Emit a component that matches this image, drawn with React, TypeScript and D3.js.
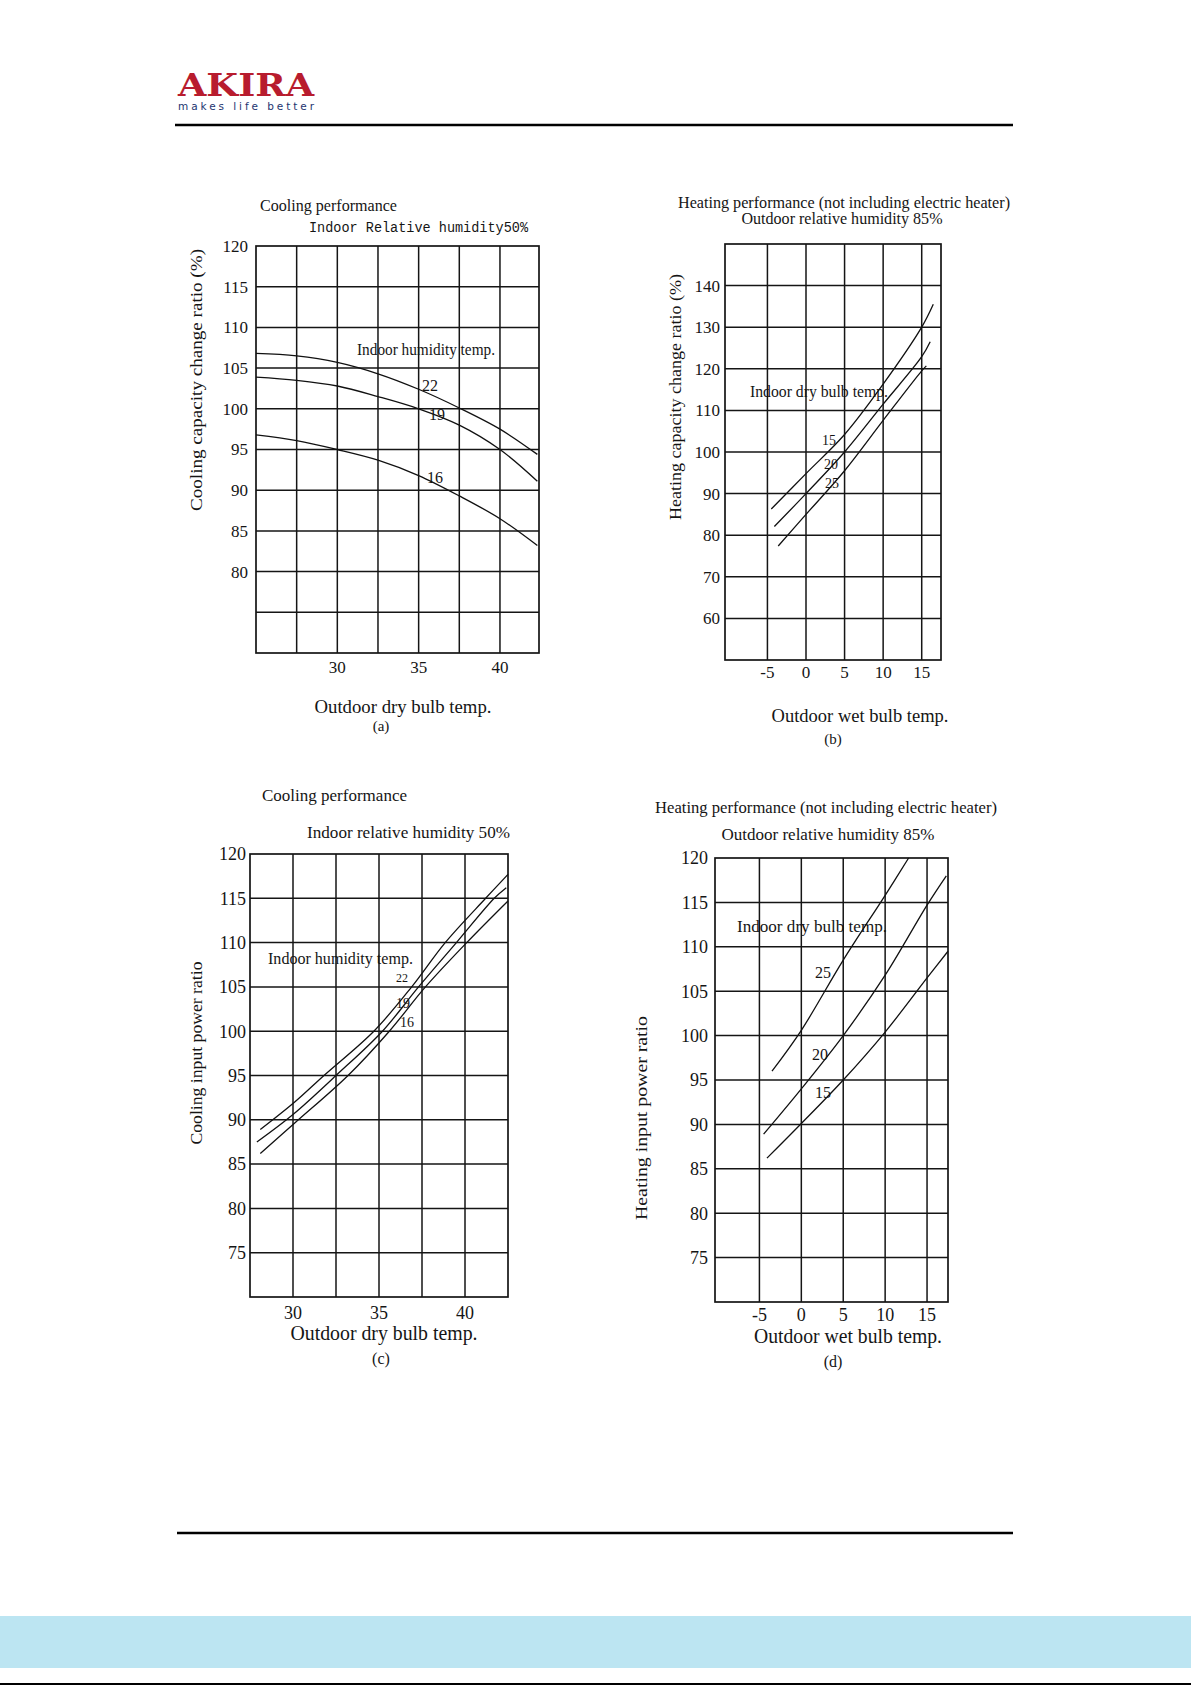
import React from 'react';
import * as d3 from 'd3';

// ================= DATA =================
// (a) Cooling capacity change ratio (%) vs outdoor dry bulb temp
const coolCapX = [25, 27.5, 30, 32.5, 35, 37.5, 40, 42.3];
const coolCap22 = [106.8, 106.5, 105.7, 104.3, 102.4, 100.1, 97.5, 94.4];
const coolCap19 = [103.9, 103.5, 102.8, 101.5, 100.0, 98.0, 95.0, 91.1];
const coolCap16 = [96.8, 96.1, 95.0, 93.7, 91.8, 89.3, 86.5, 83.2];
const coolCapGridX = [27.5, 30, 32.5, 35, 37.5, 40];
const coolCapTicksX = [30, 35, 40];
const coolCapGridY = [75, 80, 85, 90, 95, 100, 105, 110, 115];
const coolCapTicksY = [80, 85, 90, 95, 100, 105, 110, 115, 120];

// (b) Heating capacity change ratio (%) vs outdoor wet bulb temp
const heatCap15X = [-4.5, 0, 5, 10, 15, 16.5];
const heatCap15 = [86.3, 94.8, 104.2, 116.3, 130, 135.5];
const heatCap20X = [-4.1, 0, 5, 10, 15, 16.1];
const heatCap20 = [82.1, 90, 100, 111.5, 122.9, 126.5];
const heatCap25X = [-3.6, 0, 5, 10, 15, 15.6];
const heatCap25 = [77.4, 85.0, 95.5, 107.6, 119.5, 120.7];
const heatCapGridX = [-5, 0, 5, 10, 15];
const heatCapTicksX = [-5, 0, 5, 10, 15];
const heatCapGridY = [60, 70, 80, 90, 100, 110, 120, 130, 140];
const heatCapTicksY = [60, 70, 80, 90, 100, 110, 120, 130, 140];

// (c) Cooling input power ratio vs outdoor dry bulb temp
const coolPow22X = [28.1, 30.1, 31.8, 34.7, 36.9, 38.85, 41.2, 42.5];
const coolPow22 = [88.9, 92.0, 95, 100, 105, 110, 115, 117.7];
const coolPow19X = [27.9, 30, 32.5, 35.2, 37.3, 39.5, 41.7, 42.4];
const coolPow19 = [87.5, 90.6, 95, 100, 105, 110, 115, 116.2];
const coolPow16X = [28.1, 30.2, 33.2, 35.6, 37.7, 40.1, 42.5];
const coolPow16 = [86.2, 89.8, 95, 100, 105, 110, 114.7];
const coolPowGridX = [30, 32.5, 35, 37.5, 40];
const coolPowTicksX = [30, 35, 40];
const coolPowGridY = [75, 80, 85, 90, 95, 100, 105, 110, 115];
const coolPowTicksY = [75, 80, 85, 90, 95, 100, 105, 110, 115, 120];

// (d) Heating input power ratio vs outdoor wet bulb temp
const heatPow25X = [-3.5, 0, 5, 10, 12.8];
const heatPow25 = [96.0, 100.6, 108.5, 115.8, 120];
const heatPow20X = [-4.5, 0, 5, 10, 15, 17.3];
const heatPow20 = [88.9, 94.0, 100, 106.8, 114.7, 118.0];
const heatPow15X = [-4.1, 0, 5, 10, 15, 17.5];
const heatPow15 = [86.2, 90.1, 95, 100.4, 106.5, 109.5];
const heatPowGridX = [-5, 0, 5, 10, 15];
const heatPowTicksX = [-5, 0, 5, 10, 15];
const heatPowGridY = [75, 80, 85, 90, 95, 100, 105, 110, 115];
const heatPowTicksY = [75, 80, 85, 90, 95, 100, 105, 110, 115, 120];

// ================= STYLE =================
const SERIF = '"Liberation Serif", "Times New Roman", serif';
const MONO = '"Liberation Mono", "DejaVu Sans Mono", monospace';
const SANS = '"DejaVu Sans", Verdana, sans-serif';
const INK = '#151515';

type Txt = { t: string; x: number; y: number; size: number; w?: number; anchor?: string; font?: string };

type PanelCfg = {
  box: [number, number, number, number]; // left, right, top, bottom
  xDom: [number, number];
  yDom: [number, number];
  gridX: number[];
  gridY: number[];
  ticksX: number[];
  ticksY: number[];
  tickYRight: number;
  tickXBase: number;
  tickSize: number;
  series: { x: number[]; y: number[] }[];
  texts: Txt[];
  yTitle: { t: string; x: number; y: number; w: number; size: number };
};

const panels: PanelCfg[] = [
  {
    box: [256, 539, 246, 653],
    xDom: [25, 42.4],
    yDom: [70, 120],
    gridX: coolCapGridX,
    gridY: coolCapGridY,
    ticksX: coolCapTicksX,
    ticksY: coolCapTicksY,
    tickYRight: 248,
    tickXBase: 673,
    tickSize: 17,
    series: [
      { x: coolCapX, y: coolCap22 },
      { x: coolCapX, y: coolCap19 },
      { x: coolCapX, y: coolCap16 },
    ],
    texts: [
      { t: 'Cooling performance', x: 260, y: 211, size: 17, w: 137 },
      { t: 'Indoor Relative humidity50%', x: 309, y: 232, size: 14, w: 219, font: MONO },
      { t: 'Outdoor dry bulb temp.', x: 403, y: 713, size: 19, w: 177, anchor: 'middle' },
      { t: '(a)', x: 381, y: 731, size: 15, anchor: 'middle' },
      { t: 'Indoor humidity temp.', x: 357, y: 355, size: 17, w: 138 },
      { t: '22', x: 430, y: 391, size: 16, anchor: 'middle' },
      { t: '19', x: 437, y: 420, size: 16, anchor: 'middle' },
      { t: '16', x: 435, y: 483, size: 16, anchor: 'middle' },
    ],
    yTitle: { t: 'Cooling capacity change ratio (%)', x: 202, y: 380, w: 262, size: 16.5 },
  },
  {
    box: [725, 941, 244, 660],
    xDom: [-10.5, 17.5],
    yDom: [50, 150],
    gridX: heatCapGridX,
    gridY: heatCapGridY,
    ticksX: heatCapTicksX,
    ticksY: heatCapTicksY,
    tickYRight: 720,
    tickXBase: 678,
    tickSize: 17,
    series: [
      { x: heatCap15X, y: heatCap15 },
      { x: heatCap20X, y: heatCap20 },
      { x: heatCap25X, y: heatCap25 },
    ],
    texts: [
      { t: 'Heating performance (not including electric heater)', x: 844, y: 208, size: 16, w: 332, anchor: 'middle' },
      { t: 'Outdoor relative humidity 85%', x: 842, y: 224, size: 16, w: 201, anchor: 'middle' },
      { t: 'Outdoor wet bulb temp.', x: 860, y: 722, size: 19, w: 177, anchor: 'middle' },
      { t: '(b)', x: 833, y: 744, size: 15, anchor: 'middle' },
      { t: 'Indoor dry bulb temp.', x: 750, y: 397, size: 16.5, w: 138 },
      { t: '15', x: 829, y: 445, size: 14, anchor: 'middle' },
      { t: '20', x: 831, y: 469, size: 14, anchor: 'middle' },
      { t: '25', x: 832, y: 488, size: 14, anchor: 'middle' },
    ],
    yTitle: { t: 'Heating capacity change ratio (%)', x: 681, y: 397, w: 246, size: 16.5 },
  },
  {
    box: [250, 508, 854, 1297],
    xDom: [27.5, 42.5],
    yDom: [70, 120],
    gridX: coolPowGridX,
    gridY: coolPowGridY,
    ticksX: coolPowTicksX,
    ticksY: coolPowTicksY,
    tickYRight: 246,
    tickXBase: 1319,
    tickSize: 18,
    series: [
      { x: coolPow22X, y: coolPow22 },
      { x: coolPow19X, y: coolPow19 },
      { x: coolPow16X, y: coolPow16 },
    ],
    texts: [
      { t: 'Cooling performance', x: 262, y: 801, size: 17.5, w: 145 },
      { t: 'Indoor relative humidity 50%', x: 307, y: 838, size: 17.5, w: 203 },
      { t: 'Outdoor dry bulb temp.', x: 384, y: 1340, size: 21, w: 187, anchor: 'middle' },
      { t: '(c)', x: 381, y: 1364, size: 16, anchor: 'middle' },
      { t: 'Indoor humidity temp.', x: 268, y: 964, size: 17.5, w: 145 },
      { t: '22', x: 402, y: 982, size: 12, anchor: 'middle' },
      { t: '19', x: 403, y: 1008, size: 14, anchor: 'middle' },
      { t: '16', x: 407, y: 1027, size: 14, anchor: 'middle' },
    ],
    yTitle: { t: 'Cooling input power ratio', x: 202, y: 1053, w: 183, size: 16.5 },
  },
  {
    box: [715, 948, 858, 1302],
    xDom: [-10.3, 17.5],
    yDom: [70, 120],
    gridX: heatPowGridX,
    gridY: heatPowGridY,
    ticksX: heatPowTicksX,
    ticksY: heatPowTicksY,
    tickYRight: 708,
    tickXBase: 1321,
    tickSize: 18,
    series: [
      { x: heatPow25X, y: heatPow25 },
      { x: heatPow20X, y: heatPow20 },
      { x: heatPow15X, y: heatPow15 },
    ],
    texts: [
      { t: 'Heating performance (not including electric heater)', x: 826, y: 813, size: 17, w: 342, anchor: 'middle' },
      { t: 'Outdoor relative humidity 85%', x: 828, y: 840, size: 17, w: 213, anchor: 'middle' },
      { t: 'Outdoor wet bulb temp.', x: 848, y: 1343, size: 21, w: 188, anchor: 'middle' },
      { t: '(d)', x: 833, y: 1367, size: 16, anchor: 'middle' },
      { t: 'Indoor dry bulb temp.', x: 737, y: 932, size: 17, w: 150 },
      { t: '25', x: 823, y: 978, size: 16, anchor: 'middle' },
      { t: '20', x: 820, y: 1060, size: 16, anchor: 'middle' },
      { t: '15', x: 823, y: 1098, size: 16, anchor: 'middle' },
    ],
    yTitle: { t: 'Heating input power ratio', x: 647, y: 1118, w: 204, size: 16.5 },
  },
];

function Panel({ cfg }: { cfg: PanelCfg }) {
  const [l, r, t, b] = cfg.box;
  const xs = d3.scaleLinear().domain(cfg.xDom).range([l, r]);
  const ys = d3.scaleLinear().domain(cfg.yDom).range([b, t]);
  const line = d3
    .line<[number, number]>()
    .x((d) => xs(d[0]))
    .y((d) => ys(d[1]))
    .curve(d3.curveCatmullRom.alpha(0.5));
  return (
    <g>
      {cfg.gridY.map((v) => (
        <line key={'gy' + v} x1={l} x2={r} y1={ys(v)} y2={ys(v)} stroke={INK} strokeWidth={1.5} />
      ))}
      {cfg.gridX.map((v) => (
        <line key={'gx' + v} x1={xs(v)} x2={xs(v)} y1={t} y2={b} stroke={INK} strokeWidth={1.5} />
      ))}
      <rect x={l} y={t} width={r - l} height={b - t} fill="none" stroke={INK} strokeWidth={1.7} />
      {cfg.series.map((s, i) => (
        <path
          key={'s' + i}
          d={line(s.x.map((xv, j) => [xv, s.y[j]] as [number, number])) || ''}
          fill="none"
          stroke="#111"
          strokeWidth={1.3}
        />
      ))}
      {cfg.ticksY.map((v) => (
        <text
          key={'ty' + v}
          x={cfg.tickYRight}
          y={ys(v)}
          dy="0.35em"
          textAnchor="end"
          fontFamily={SERIF}
          fontSize={cfg.tickSize}
          fill={INK}
        >
          {v}
        </text>
      ))}
      {cfg.ticksX.map((v) => (
        <text
          key={'tx' + v}
          x={xs(v)}
          y={cfg.tickXBase}
          textAnchor="middle"
          fontFamily={SERIF}
          fontSize={cfg.tickSize}
          fill={INK}
        >
          {v}
        </text>
      ))}
      {cfg.texts.map((tx, i) => (
        <text
          key={'t' + i}
          x={tx.x}
          y={tx.y}
          textAnchor={tx.anchor || 'start'}
          fontFamily={tx.font || SERIF}
          fontSize={tx.size}
          fill={INK}
          {...(tx.w ? { textLength: tx.w, lengthAdjust: 'spacingAndGlyphs' } : {})}
        >
          {tx.t}
        </text>
      ))}
      <text
        transform={`translate(${cfg.yTitle.x},${cfg.yTitle.y}) rotate(-90)`}
        textAnchor="middle"
        fontFamily={SERIF}
        fontSize={cfg.yTitle.size}
        fill={INK}
        textLength={cfg.yTitle.w}
        lengthAdjust="spacingAndGlyphs"
      >
        {cfg.yTitle.t}
      </text>
    </g>
  );
}

export default function App() {
  return (
    <svg
      width={1191}
      height={1685}
      viewBox="0 0 1191 1685"
      style={{ position: 'absolute', left: 0, top: 0, background: '#fff' }}
    >
      <rect x={0} y={0} width={1191} height={1685} fill="#fff" />
      {/* header */}
      <text
        x={178}
        y={96}
        fontFamily={'"DejaVu Serif", "Liberation Serif", serif'}
        fontWeight="bold"
        fontSize={31}
        fill="#b81c2e"
        textLength={136}
        lengthAdjust="spacingAndGlyphs"
      >
        AKIRA
      </text>
      <text
        x={178}
        y={110}
        fontFamily={SANS}
        fontSize={10.5}
        fill="#1d3570"
        textLength={136}
        lengthAdjust="spacing"
      >
        makes life better
      </text>
      <line x1={175} x2={1013} y1={125} y2={125} stroke="#000" strokeWidth={2.5} />
      {panels.map((p, i) => (
        <Panel key={i} cfg={p} />
      ))}
      {/* footer */}
      <line x1={177} x2={1013} y1={1533} y2={1533} stroke="#000" strokeWidth={2.5} />
      <rect x={0} y={1616} width={1191} height={52} fill="#bce5f2" />
      <line x1={0} x2={1191} y1={1684} y2={1684} stroke="#000" strokeWidth={2} />
    </svg>
  );
}
